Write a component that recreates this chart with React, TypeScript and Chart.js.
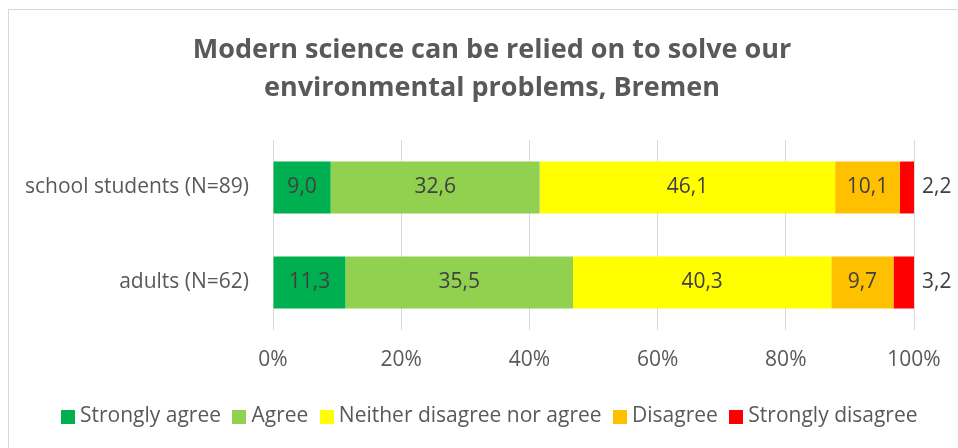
import React, { useEffect, useRef } from "react";
import { Chart, registerables } from "chart.js";

Chart.register(...registerables);

const titleLines = ["Modern science can be relied on to solve our", "environmental problems, Bremen"];
const categories = ["school students (N=89)", "adults (N=62)"];
const seriesNames = ["Strongly agree", "Agree", "Neither disagree nor agree", "Disagree", "Strongly disagree"];
const stronglyAgree = [9.0, 11.3];
const agree = [32.6, 35.5];
const neither = [46.1, 40.3];
const disagree = [10.1, 9.7];
const stronglyDisagree = [2.2, 3.2];
const seriesColors = ["#00B050", "#92D050", "#FFFF00", "#FFC000", "#FF0000"];
const xTicks = [0, 20, 40, 60, 80, 100];

const FONT = "'Open Sans', sans-serif";

const fmt = (v: number) => v.toFixed(1).replace(".", ",");

const labelPlugin = {
  id: "barLabels",
  afterDatasetsDraw(chart: any) {
    const ctx = chart.ctx;
    ctx.save();
    ctx.font = `21px ${FONT}`;
    ctx.fillStyle = "#404040";
    ctx.textBaseline = "middle";
    const n = chart.data.datasets.length;
    chart.data.datasets.forEach((ds: any, i: number) => {
      const meta = chart.getDatasetMeta(i);
      meta.data.forEach((el: any, j: number) => {
        const v = ds.data[j];
        const txt = fmt(v);
        if (i === n - 1) {
          ctx.textAlign = "left";
          ctx.fillText(txt, el.x + 8, el.y);
        } else {
          ctx.textAlign = "center";
          ctx.fillText(txt, (el.x + el.base) / 2, el.y);
        }
      });
    });
    ctx.restore();
  },
};

function makeSwatch(color: string) {
  const c = document.createElement("canvas");
  c.width = 14;
  c.height = 14;
  const g = c.getContext("2d")!;
  g.fillStyle = color;
  g.fillRect(0, 0, 14, 14);
  return c;
}

export default function App() {
  const ref = useRef<HTMLCanvasElement | null>(null);
  useEffect(() => {
    if (!ref.current) return;
    const values = [stronglyAgree, agree, neither, disagree, stronglyDisagree];
    const swatches = seriesColors.map(makeSwatch);
    const defaultGen = (Chart.defaults as any).plugins.legend.labels.generateLabels;
    const chart = new Chart(ref.current, {
      type: "bar",
      data: {
        labels: categories,
        datasets: seriesNames.map((name, i) => ({
          label: name,
          data: values[i],
          backgroundColor: seriesColors[i],
          borderWidth: 0,
          barPercentage: 1,
          categoryPercentage: 0.547,
        })),
      },
      options: {
        indexAxis: "y",
        responsive: false,
        animation: false,
        layout: { padding: { left: 0, right: 0, top: 0, bottom: 11 } },
        scales: {
          x: {
            stacked: true,
            min: 0,
            max: 100,
            afterBuildTicks: (s: any) => {
              s.ticks = xTicks.map((v) => ({ value: v }));
            },
            afterFit: (s: any) => {
              s.height = 59;
            },
            grid: { color: "#d9d9d9", lineWidth: 1, drawTicks: false },
            border: { display: false },
            ticks: {
              padding: 17,
              color: "#595959",
              font: { family: FONT, size: 21 },
              callback: (v: any) => `${v}%`,
            },
          },
          y: {
            stacked: true,
            afterFit: (s: any) => {
              s.width = 264;
            },
            grid: { display: false, drawTicks: false },
            border: { display: false },
            ticks: {
              padding: 24,
              color: "#595959",
              font: { family: FONT, size: 21 },
            },
          },
          y2: {
            type: "category",
            position: "right",
            labels: categories,
            afterFit: (s: any) => {
              s.width = 61;
            },
            grid: { display: false, drawTicks: false },
            border: { display: false },
            ticks: { display: false },
          },
        },
        plugins: {
          title: {
            display: true,
            text: titleLines,
            color: "#595959",
            font: { family: FONT, size: 27, weight: "bold", lineHeight: 38 / 27 },
            padding: { top: 21, bottom: 33 },
          },
          legend: {
            position: "bottom",
            labels: {
              usePointStyle: true,
              pointStyleWidth: 3,
              boxWidth: 14,
              boxHeight: 14,
              padding: 17,
              color: "#595959",
              font: { family: FONT, size: 21 },
              generateLabels: (ch: any) => {
                const items = defaultGen(ch);
                items.forEach((it: any, k: number) => {
                  it.pointStyle = swatches[k];
                });
                return items;
              },
            },
          },
          tooltip: { enabled: false },
        },
      } as any,
      plugins: [labelPlugin],
    });
    return () => chart.destroy();
  }, []);

  return (
    <div style={{ position: "fixed", left: 0, top: 0, width: 958, height: 448, overflow: "hidden", background: "#fff" }}>
      <div
        style={{
          position: "absolute",
          left: 8,
          top: 9,
          width: 1000,
          height: 500,
          border: "1px solid #d9d9d9",
          boxSizing: "border-box",
        }}
      >
        <canvas ref={ref} width={966} height={438} style={{ position: "absolute", left: 0, top: 0, width: 966, height: 438 }} />
      </div>
    </div>
  );
}
